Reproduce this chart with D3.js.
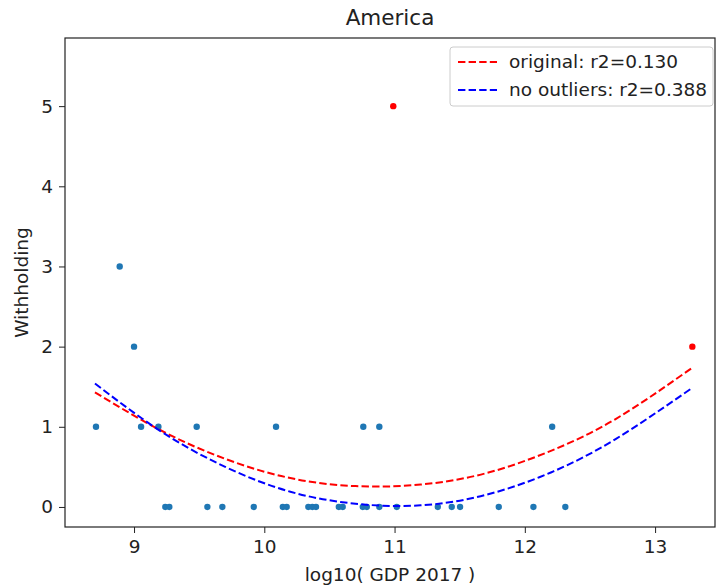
<!DOCTYPE html>
<html>
<head>
<meta charset="utf-8">
<script src="https://cdn.jsdelivr.net/npm/d3@7"></script>
<style>
  body { margin: 0; background: #fff; }
  text { font-family: "DejaVu Sans", sans-serif; fill: #222; }
</style>
</head>
<body>
<div id="chart"></div>
<script>
// countries (log10 GDP vs withholding)
const gdpX = [8.708, 8.89, 9.0, 9.054, 9.187, 9.481, 10.09, 10.76, 10.883, 12.21,
    9.240, 9.271, 9.563, 9.678, 9.919, 10.142, 10.172, 10.338, 10.369, 10.397,
    10.572, 10.602, 10.756, 10.787, 10.883, 11.017, 11.332, 11.439, 11.503, 11.80,
    12.066, 12.311];
const withholding = [1, 3, 2, 1, 1, 1, 1, 1, 1, 1,
    0, 0, 0, 0, 0, 0, 0, 0, 0, 0,
    0, 0, 0, 0, 0, 0, 0, 0, 0, 0,
    0, 0];
const outlierX = [10.99, 13.286];
const outlierY = [5, 2];

// fitted curves
const fitX = [8.7, 9.2, 9.7, 10.2, 10.7, 11.2, 11.7, 12.2, 12.7, 13.28];
const fitOriginal = [1.43, 0.96, 0.60, 0.36, 0.26, 0.28, 0.42, 0.70, 1.10, 1.73];
const fitNoOutliers = [1.54, 0.95, 0.50, 0.19, 0.04, 0.02, 0.15, 0.43, 0.85, 1.48];

const xTicks = [9, 10, 11, 12, 13];
const yTicks = [0, 1, 2, 3, 4, 5];
const legendLabels = ["original: r2=0.130", "no outliers: r2=0.388"];

const W = 717, H = 588;
const margin = {top: 38, right: 2, bottom: 61, left: 65},
    width = W - margin.left - margin.right,
    height = H - margin.top - margin.bottom;

const svg = d3.select("#chart")
    .append("svg")
    .attr("width", W)
    .attr("height", H);

const g = svg.append("g")
    .attr("transform", `translate(${margin.left}, ${margin.top})`);

const x = d3.scaleLinear().domain([8.47, 13.46]).range([0, width]);
const y = d3.scaleLinear().domain([-0.25, 5.85]).range([height, 0]);

const xAxis = g.append("g")
    .attr("transform", `translate(0, ${height})`)
    .call(d3.axisBottom(x).tickValues(xTicks).tickFormat(d3.format("d")).tickSize(6).tickPadding(7));
const yAxis = g.append("g")
    .call(d3.axisLeft(y).tickValues(yTicks).tickFormat(d3.format("d")).tickSize(6).tickPadding(6));
[xAxis, yAxis].forEach(a => {
    a.select(".domain").remove();
    a.selectAll("text").style("font-size", "18.5px").style("font-family", "DejaVu Sans, sans-serif").attr("fill", "#222");
    a.selectAll("line").attr("stroke", "#222");
});

// frame
g.append("rect")
    .attr("width", width)
    .attr("height", height)
    .attr("fill", "none")
    .attr("stroke", "#222")
    .attr("stroke-width", 1.2);

const pts = gdpX.map((d, i) => ({x: d, y: withholding[i]}));
g.selectAll("circle.pt")
    .data(pts)
    .enter()
    .append("circle")
    .attr("class", "pt")
    .attr("cx", d => x(d.x))
    .attr("cy", d => y(d.y))
    .attr("r", 3.2)
    .attr("fill", "#1f77b4");

g.selectAll("circle.out")
    .data(outlierX.map((d, i) => ({x: d, y: outlierY[i]})))
    .enter()
    .append("circle")
    .attr("class", "out")
    .attr("cx", d => x(d.x))
    .attr("cy", d => y(d.y))
    .attr("r", 3.2)
    .attr("fill", "red");

const line = d3.line()
    .x(d => x(d[0]))
    .y(d => y(d[1]))
    .curve(d3.curveNatural);

const fits = [
    {vals: fitOriginal, color: "red"},
    {vals: fitNoOutliers, color: "blue"}
];
fits.forEach(f => {
    g.append("path")
        .datum(fitX.map((d, i) => [d, f.vals[i]]))
        .attr("d", line)
        .attr("fill", "none")
        .attr("stroke", f.color)
        .attr("stroke-width", 2)
        .attr("stroke-dasharray", "7.4,3.2");
});

// legend
const lg = svg.append("g").attr("transform", "translate(450, 47)");
lg.append("rect")
    .attr("width", 263)
    .attr("height", 59)
    .attr("rx", 3)
    .attr("fill", "white")
    .attr("fill-opacity", 0.8)
    .attr("stroke", "#ccc");
fits.forEach((f, i) => {
    const yy = 15 + i * 28;
    lg.append("line")
        .attr("x1", 8).attr("x2", 47)
        .attr("y1", yy).attr("y2", yy)
        .attr("stroke", f.color)
        .attr("stroke-width", 2)
        .attr("stroke-dasharray", "7.4,3.2");
    lg.append("text")
        .attr("x", 59)
        .attr("y", yy)
        .attr("dy", "0.35em")
        .style("font-size", "18.5px")
        .text(legendLabels[i]);
});

svg.append("text")
    .attr("x", margin.left + width / 2)
    .attr("y", 17)
    .attr("dy", "0.35em")
    .attr("text-anchor", "middle")
    .style("font-size", "21.5px")
    .text("America");

svg.append("text")
    .attr("x", margin.left + width / 2)
    .attr("y", 575)
    .attr("dy", "0.35em")
    .attr("text-anchor", "middle")
    .style("font-size", "18.5px")
    .text("log10( GDP 2017 )");

svg.append("text")
    .attr("transform", `translate(22, ${margin.top + height / 2}) rotate(-90)`)
    .attr("dy", "0.35em")
    .attr("text-anchor", "middle")
    .style("font-size", "18.5px")
    .text("Withholding");
</script>
</body>
</html>
